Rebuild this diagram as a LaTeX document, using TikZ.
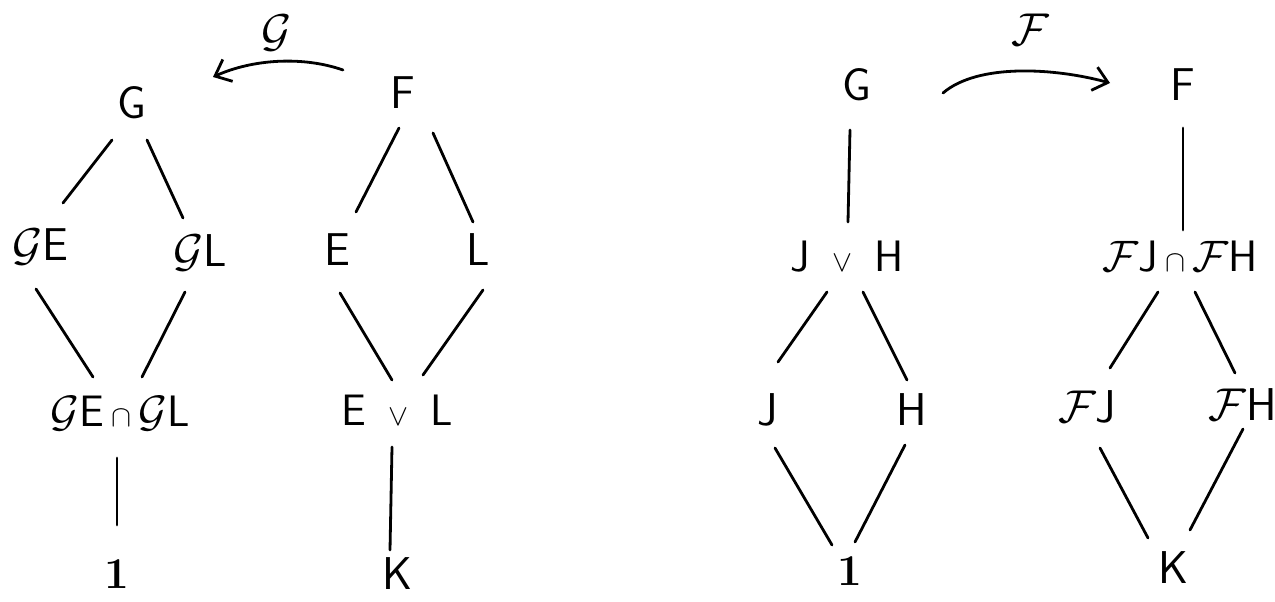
\RequirePackage{fix-cm}
\documentclass[tikz,border=0pt]{standalone}
\usetikzlibrary{arrows.meta,calc}
\tikzset{
  lab/.style={font=\fontsize{46}{50}\selectfont\sffamily, inner sep=0pt},
  labs/.style={font=\fontsize{44}{48}\selectfont\sffamily, inner sep=0pt},
  one/.style={font=\fontsize{44}{48}\selectfont\rmfamily\bfseries, inner sep=0pt},
  edge/.style={line width=2.8pt, line cap=round},
  map/.style={line width=2.8pt, line cap=round, -{Straight Barb[length=14pt,width=24pt]}},
}
\newcommand\smop[1]{{\fontsize{30}{32}\selectfont$#1$}}
\begin{document}
\begin{tikzpicture}[x=1pt,y=-1pt]
\useasboundingbox (0,0) rectangle (1275,602);
% ---------- left lattice ----------
\node[lab] (G1) at (132,103) {G};
\node[lab] (F1) at (403,93) {F};
\node[lab] (GE) at (40,247) {$\mathcal{G}$E};
\node[lab] (GL) at (200,253) {$\mathcal{G}$L};
\node[lab] (E)  at (337,250) {E};
\node[lab] (L)  at (478,250) {L};
\node[labs] (M1) at (120,413) {$\mathcal{G}$E\,\smop{\cap}\,$\mathcal{G}$L};
\node[labs] (J1) at (397,410) {E\enspace\smop{\vee}\enspace L};
\node[one] (one1) at (117,574) {1};
\node[lab] (K1) at (397,574) {K};
\node[lab] (gmap) at (277,33) {$\mathcal{G}$};

\draw[edge] ($(G1)+(-20,37)$) -- ($(GE)+(23,-44)$);
\draw[edge] ($(G1)+(15,37)$) -- ($(GL)+(-17,-35)$);
\draw[edge] ($(GE)+(-4,42)$) -- ($(M1)+(-27,-36)$);
\draw[edge] ($(GL)+(-15,39)$) -- ($(M1)+(22,-36)$);
\draw[edge] ($(M1)+(-3,45)$) -- ($(one1)+(0,-49)$);
\draw[edge] ($(F1)+(-4,35)$) -- ($(E)+(19,-38)$);
\draw[edge] ($(F1)+(30,40)$) -- ($(L)+(-5,-28)$);
\draw[edge] ($(E)+(3,43)$) -- ($(J1)+(-5,-30)$);
\draw[edge] ($(L)+(5,40)$) -- ($(J1)+(26,-35)$);
\draw[edge] ($(J1)+(-5,37)$) -- ($(K1)+(-7,-24)$);
\draw[map] ($(F1)+(-60,-23)$) .. controls +(-40,-14) and +(40,-18) .. ($(G1)+(81,-26)$);

% ---------- right lattice ----------
\node[lab] (G2) at (857,85) {G};
\node[lab] (F2) at (1183,85) {F};
\node[labs] (JH) at (847,257) {J\enspace\smop{\vee}\enspace H};
\node[labs] (FM) at (1180,257) {$\mathcal{F}$J\,\smop{\cap}\,$\mathcal{F}$H};
\node[lab] (J)  at (768,410) {J};
\node[lab] (H)  at (912,410) {H};
\node[lab] (FJ) at (1087,407) {$\mathcal{F}$J};
\node[lab] (FH) at (1243,405) {$\mathcal{F}$H};
\node[one] (one2) at (850,571) {1};
\node[lab] (K2) at (1173,568) {K};
\node[lab] (fmap) at (1030,30) {$\mathcal{F}$};

\draw[edge] ($(G2)+(-7,45)$) -- ($(JH)+(1,-35)$);
\draw[edge] ($(JH)+(-20,35)$) -- ($(J)+(10,-48)$);
\draw[edge] ($(JH)+(16,35)$) -- ($(H)+(-5,-30)$);
\draw[edge] ($(J)+(7,38)$) -- ($(one2)+(-18,-26)$);
\draw[edge] ($(H)+(-7,35)$) -- ($(one2)+(5,-29)$);
\draw[edge] ($(F2)+(0,43)$) -- ($(FM)+(3,-27)$);
\draw[edge] ($(FM)+(-22,35)$) -- ($(FJ)+(23,-39)$);
\draw[edge] ($(FM)+(15,35)$) -- ($(FH)+(-8,-32)$);
\draw[edge] ($(FJ)+(13,41)$) -- ($(K2)+(-25,-30)$);
\draw[edge] ($(FH)+(0,24)$) -- ($(K2)+(17,-38)$);
\draw[map] ($(G2)+(86,8)$) .. controls +(35,-30) and +(-55,-15) .. ($(F2)+(-73,-2)$);
\end{tikzpicture}
\end{document}
